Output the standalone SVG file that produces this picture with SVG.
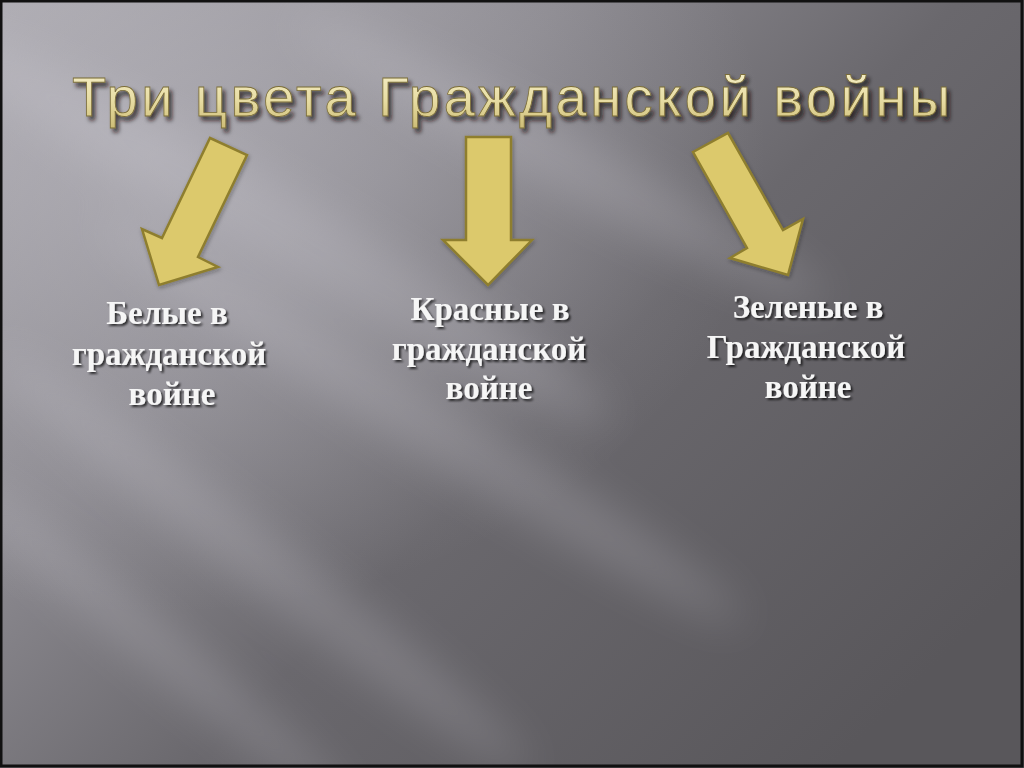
<svg xmlns="http://www.w3.org/2000/svg" width="1024" height="768" viewBox="0 0 1024 768">
  <defs>
    <linearGradient id="bg" x1="0" y1="0" x2="1" y2="0.75">
      <stop offset="0" stop-color="#aaa8ae"/>
      <stop offset="0.35" stop-color="#8a888e"/>
      <stop offset="0.6" stop-color="#6a686d"/>
      <stop offset="1" stop-color="#59575b"/>
    </linearGradient>
    <radialGradient id="glow" cx="0.15" cy="0.2" r="0.6">
      <stop offset="0" stop-color="#c0bec6" stop-opacity="0.45"/>
      <stop offset="1" stop-color="#c0bec6" stop-opacity="0"/>
    </radialGradient>
    <linearGradient id="titleFill" x1="0" y1="0" x2="0" y2="1">
      <stop offset="0" stop-color="#f6f0cc"/>
      <stop offset="0.55" stop-color="#e8dda4"/>
      <stop offset="1" stop-color="#cdbd76"/>
    </linearGradient>
    <filter id="blur" x="-50%" y="-50%" width="200%" height="200%">
      <feGaussianBlur stdDeviation="22"/>
    </filter>
    <filter id="titleShadow" x="-5%" y="-30%" width="110%" height="160%">
      <feDropShadow dx="3" dy="4" stdDeviation="2" flood-color="#1a1814" flood-opacity="0.75"/>
    </filter>
    <filter id="textShadow" x="-10%" y="-30%" width="120%" height="160%">
      <feDropShadow dx="2" dy="2" stdDeviation="1" flood-color="#000" flood-opacity="0.7"/>
    </filter>
    <filter id="arrowShadow" x="-20%" y="-20%" width="140%" height="140%">
      <feDropShadow dx="1" dy="2" stdDeviation="2" flood-color="#222" flood-opacity="0.35"/>
    </filter>
  </defs>
  <style>
    .title { font-family: "Liberation Sans", "DejaVu Sans", sans-serif; font-size: 56px; fill: url(#titleFill); stroke: #7a6c38; stroke-width: 0.8; filter: url(#titleShadow); }
    .label { font-family: "Liberation Serif", "DejaVu Serif", serif; font-weight: bold; font-size: 33px; fill: #f6f6f6; text-anchor: middle; filter: url(#textShadow); }
    .arrow { fill: #dcc96c; stroke: #8e7e2f; stroke-width: 2.5; stroke-linejoin: miter; filter: url(#arrowShadow); }
  </style>

  <g id="background">
    <rect x="0" y="0" width="1024" height="768" fill="url(#bg)"/>
    <rect x="0" y="0" width="1024" height="768" fill="url(#glow)"/>
    <g filter="url(#blur)" fill="#d6d4dc" opacity="0.22">
      <ellipse cx="280" cy="230" rx="380" ry="40" transform="rotate(30 280 230)"/>
      <ellipse cx="260" cy="560" rx="340" ry="28" transform="rotate(38 260 560)"/>
      <ellipse cx="150" cy="640" rx="260" ry="22" transform="rotate(40 150 640)"/>
      <ellipse cx="420" cy="420" rx="380" ry="30" transform="rotate(32 420 420)"/>
      <ellipse cx="560" cy="160" rx="300" ry="30" transform="rotate(28 560 160)"/>
    </g>
    <rect x="1" y="1" width="1021" height="765" fill="none" stroke="#111" stroke-width="3"/>
  </g>

  <g id="title">
    <text class="title" x="72" y="116" textLength="878" lengthAdjust="spacing">Три цвета Гражданской войны</text>
  </g>

  <g id="connectors">
    <polygon class="arrow" points="210,138 247,155 198,257 218,267 159,285 142,229 162,238"/>
    <polygon class="arrow" points="466,137 511,137 511,240 532,240 488,285 443,240 466,240"/>
    <polygon class="arrow" points="693,152 728,133 783,230 803,219 788,275 730,258 747,248"/>
  </g>

  <g id="node-white">
    <text class="label" x="167" y="324">Белые в</text>
    <text class="label" x="169" y="365">гражданской</text>
    <text class="label" x="172" y="405">войне</text>
  </g>

  <g id="node-red">
    <text class="label" x="490" y="320">Красные в</text>
    <text class="label" x="489" y="360">гражданской</text>
    <text class="label" x="489" y="399">войне</text>
  </g>

  <g id="node-green">
    <text class="label" x="808" y="318">Зеленые в</text>
    <text class="label" x="806" y="358">Гражданской</text>
    <text class="label" x="808" y="398">войне</text>
  </g>
</svg>
